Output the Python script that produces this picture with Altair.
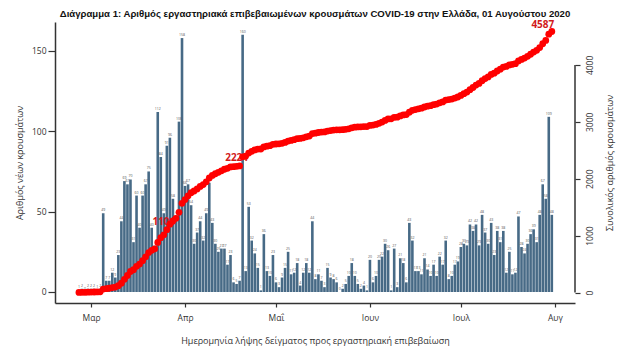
import altair as alt
import pandas as pd

# ---- data ----
start_date = "2020-02-26"
daily_cases = [
    1, 2, 0, 2, 2, 2, 1, 2,
    49, 7, 7, 12, 9,
    23, 44, 69, 67, 70, 31, 60, 40, 60, 67, 75, 40, 26, 112, 84, 49, 91, 96,
    58, 45, 106, 158, 66, 67, 54, 30, 37, 44,
    32, 49, 68, 43, 30, 25, 27, 27, 17, 23, 6, 5, 7,
    160,
    13, 53, 32, 24, 15, 1, 36, 13, 10, 23, 6, 3, 9, 15, 25, 11, 12, 18, 4, 12,
    18, 12, 44, 8, 11, 7, 3, 15, 9, 8, 6, 0, 2, 5, 10, 18, 10, 5, 2, 4, 1,
    20, 6, 10, 20, 22, 30, 26, 1, 27, 3, 21, 18, 6, 43, 32, 13, 13, 11, 21, 14,
    10, 17, 10, 22, 17, 32, 8, 10, 17, 19,
    28, 30, 29, 42, 38, 42, 29, 48, 37, 30, 43, 23, 38, 31, 38, 12, 25, 11, 12, 47,
    28, 24, 30, 36, 39, 31, 48, 67, 58, 109, 48,
]
month_starts = ["2020-03-01", "2020-04-01", "2020-05-01", "2020-06-01", "2020-07-01", "2020-08-01"]
month_labels = ["Μαρ", "Απρ", "Μαΐ", "Ιουν", "Ιουλ", "Αυγ"]
left_ticks = [0, 50, 100, 150]
right_ticks = [0, 1000, 2000, 3000, 4000]
ann_dates = ["2020-03-26", "2020-04-19"]
ann_text = ["1104", "2224"]
final_text = ["4587"]

TITLE = "Διάγραμμα 1: Αριθμός εργαστηριακά επιβεβαιωμένων κρουσμάτων COVID-19 στην Ελλάδα, 01 Αυγούστου 2020"
X_TITLE = "Ημερομηνία λήψης δείγματος προς εργαστηριακή επιβεβαίωση"
Y_TITLE = "Αριθμός νέων κρουσμάτων"
Y2_TITLE = "Συνολικός αριθμός κρουσμάτων"

t0 = pd.Timestamp(start_date)
df = pd.DataFrame({"day": list(range(len(daily_cases))), "cases": daily_cases})
df["cum"] = df["cases"].cumsum()

tick_days = [(pd.Timestamp(d) - t0).days for d in month_starts]
ann_days = [(pd.Timestamp(d) - t0).days for d in ann_dates]
ann_df = pd.DataFrame({"day": ann_days, "text": ann_text, "cum": df.loc[ann_days, "cum"].values})
last = len(daily_cases) - 1
fin_df = pd.DataFrame({"day": [last], "text": final_text, "cum": [df.loc[last, "cum"]]})

label_expr = ("[" + ",".join(f"'{m}'" for m in month_labels) + "][indexof(["
              + ",".join(str(d) for d in tick_days) + "], datum.value)]")

FONT = "Open Sans"
TXT = "#333333"
AX = "#333333"
BAR = "#476a86"
RED = "#ff0000"
LAB = "#d11a1a"

x_scale = alt.Scale(domain=[-6.25, 162.0], nice=False, zero=False)
x_axis = alt.Axis(values=tick_days, labelExpr=label_expr, title=X_TITLE, grid=False,
                  domainColor=AX, domainWidth=1.5, tickColor=AX, tickSize=4, tickWidth=1.2,
                  labelFont=FONT, labelFontSize=8.5, labelColor=TXT, labelPadding=6,
                  titleFont=FONT, titleFontSize=9, titleFontWeight="normal", titleColor=TXT,
                  titlePadding=15)
left_scale = alt.Scale(domain=[-6.85, 168], nice=False, zero=False)
left_axis = alt.Axis(values=left_ticks, title=Y_TITLE, grid=False,
                     domainColor=AX, domainWidth=1.5, tickColor=AX, tickSize=7, tickWidth=1.2,
                     labelFont=FONT, labelFontSize=8.5, labelColor=TXT, labelPadding=2,
                     titleFont=FONT, titleFontSize=9, titleFontWeight="normal", titleColor=TXT,
                     titlePadding=7)
right_scale = alt.Scale(domain=[-184.5, 4754], nice=False, zero=False)
right_axis = alt.Axis(orient="right", values=right_ticks, format="d", title=Y2_TITLE, grid=False,
                      domain=False, tickColor=AX, tickSize=5, tickWidth=1.2,
                      labelFont=FONT, labelFontSize=8.5, labelColor=TXT, labelAngle=270,
                      labelPadding=5, labelAlign="center", labelBaseline="top",
                      titleFont=FONT, titleFontSize=9, titleFontWeight="normal", titleColor=TXT,
                      titleAngle=270, titleBaseline="top", titlePadding=12)

bars = alt.Chart(df).mark_bar(size=2.6, color=BAR).encode(
    x=alt.X("day:Q", scale=x_scale, axis=x_axis),
    y=alt.Y("cases:Q", scale=left_scale, axis=left_axis),
)
bar_labels = alt.Chart(df).mark_text(fontSize=3.5, dy=-3, color="#555555", font=FONT).encode(
    x="day:Q", y="cases:Q", text="cases:Q"
)
left = alt.layer(bars, bar_labels)

axis_line = alt.Chart(pd.DataFrame({"k": [0]})).mark_rule(color=AX, strokeWidth=1.5).encode(
    x=alt.value(520),
    y=alt.YDatum(right_ticks[0], scale=right_scale, axis=right_axis),
    y2=alt.Y2Datum(right_ticks[-1]),
)
ann = alt.Chart(ann_df).mark_text(fontSize=10, fontWeight="bold", color=LAB, dx=-3, dy=-8, font=FONT).encode(
    x="day:Q", y=alt.Y("cum:Q", scale=right_scale, axis=right_axis), text="text:N"
)
points = alt.Chart(df).mark_circle(size=46, color=RED, opacity=1).encode(
    x="day:Q",
    y=alt.Y("cum:Q", scale=right_scale, axis=right_axis),
)
fin = alt.Chart(fin_df).mark_text(fontSize=10, fontWeight="bold", color=LAB, dx=-9, dy=-6.5, font=FONT).encode(
    x="day:Q", y=alt.Y("cum:Q", scale=right_scale, axis=right_axis), text="text:N"
)
right = alt.layer(axis_line, ann, points, fin)

chart = alt.layer(left, right).resolve_scale(y="independent").properties(
    width=520, height=281,
    autosize=alt.AutoSizeParams(type="none"),
    padding={"left": 47, "top": 14, "right": 48, "bottom": 45},
    title=alt.TitleParams(TITLE, anchor="middle", frame="group", fontSize=9.6, fontWeight="bold",
                          font="Liberation Sans, Arial, sans-serif",
                          color="#111111", offset=1),
).configure_view(stroke=None)

chart.save("out.html", embed_options={"renderer": "svg", "actions": False})
